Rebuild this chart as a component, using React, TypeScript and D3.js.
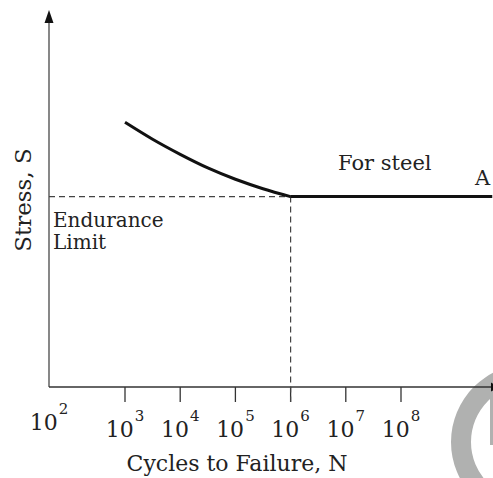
import React, { useEffect, useRef } from "react";
import * as d3 from "d3";

// S-N curve (stress in arbitrary units, 0..100 on the axis)
const cycles = [1e3, 3.16e3, 1e4, 3.16e4, 1e5, 3.16e5, 1e6];
const stress = [70.2, 65.7, 61.7, 58.1, 55.1, 52.6, 50.5];
const enduranceLimit = 50.5;
const flatEnd = 4.5e9;
const tickExponents = [3, 4, 5, 6, 7, 8];

const WIDTH = 493;
const HEIGHT = 478;
const FONT = "'DejaVu Serif', serif";

const App = () => {
  const ref = useRef<SVGSVGElement>(null);

  useEffect(() => {
    const svg = d3.select(ref.current);
    svg.selectAll("*").remove();

    const MARGIN = { left: 49, bottom: 387, top: 10 };
    const x = d3.scaleLog().domain([1e3, 1e8]).range([125, 401]);
    const y = d3.scaleLinear().domain([0, 100]).range([MARGIN.bottom, MARGIN.top]);

    // watermark ring
    const ring = d3.arc()({
      innerRadius: 58,
      outerRadius: 78,
      startAngle: 0,
      endAngle: 2 * Math.PI,
    } as any);
    svg
      .append("path")
      .attr("d", ring as string)
      .attr("transform", "translate(529,442)")
      .attr("fill", "#b0b1b0");
    svg
      .append("rect")
      .attr("x", 490)
      .attr("y", 390)
      .attr("width", 3)
      .attr("height", 55)
      .attr("fill", "#b0b1b0");

    // axes
    svg
      .append("line")
      .attr("x1", MARGIN.left)
      .attr("x2", MARGIN.left)
      .attr("y1", MARGIN.bottom)
      .attr("y2", MARGIN.top + 10)
      .attr("stroke", "#555")
      .attr("stroke-width", 1.4);
    svg
      .append("path")
      .attr(
        "d",
        `M${MARGIN.left},${MARGIN.top} L${MARGIN.left - 4.5},${MARGIN.top + 13} L${MARGIN.left + 4.5},${MARGIN.top + 13} Z`
      )
      .attr("fill", "#111");
    svg
      .append("line")
      .attr("x1", MARGIN.left)
      .attr("x2", WIDTH)
      .attr("y1", MARGIN.bottom)
      .attr("y2", MARGIN.bottom)
      .attr("stroke", "#333")
      .attr("stroke-width", 1.4);
    svg
      .append("path")
      .attr("d", `M${WIDTH + 6},${MARGIN.bottom} L${WIDTH - 2},${MARGIN.bottom - 4.5} L${WIDTH - 2},${MARGIN.bottom + 4.5} Z`)
      .attr("fill", "#111");

    // ticks
    svg
      .selectAll(".tick")
      .data(tickExponents)
      .join("line")
      .attr("x1", (d) => x(Math.pow(10, d)))
      .attr("x2", (d) => x(Math.pow(10, d)))
      .attr("y1", MARGIN.bottom)
      .attr("y2", MARGIN.bottom + 15)
      .attr("stroke", "#333")
      .attr("stroke-width", 1.3);

    const labels = svg
      .selectAll(".tlabel")
      .data(tickExponents)
      .join("text")
      .attr("x", (d) => x(Math.pow(10, d)))
      .attr("y", 437)
      .attr("text-anchor", "middle")
      .attr("font-family", FONT)
      .attr("font-size", 22)
      .attr("fill", "#222");
    labels.append("tspan").text("10");
    labels
      .append("tspan")
      .attr("dy", -16)
      .attr("dx", 1)
      .attr("font-size", 15)
      .text((d) => d);

    const l2 = svg
      .append("text")
      .attr("x", MARGIN.left)
      .attr("y", 430)
      .attr("text-anchor", "middle")
      .attr("font-family", FONT)
      .attr("font-size", 22)
      .attr("fill", "#222");
    l2.append("tspan").text("10");
    l2.append("tspan").attr("dy", -16).attr("dx", 1).attr("font-size", 15).text("2");

    // dashed guides
    svg
      .append("line")
      .attr("x1", MARGIN.left)
      .attr("x2", x(1e6))
      .attr("y1", y(enduranceLimit))
      .attr("y2", y(enduranceLimit))
      .attr("stroke", "#444")
      .attr("stroke-width", 1.2)
      .attr("stroke-dasharray", "6,4");
    svg
      .append("line")
      .attr("x1", x(1e6))
      .attr("x2", x(1e6))
      .attr("y1", y(enduranceLimit))
      .attr("y2", MARGIN.bottom + 15)
      .attr("stroke", "#444")
      .attr("stroke-width", 1.2)
      .attr("stroke-dasharray", "6,4");

    // S-N curve
    const line = d3
      .line<number>()
      .x((d, i) => x(cycles[i]))
      .y((d) => y(d))
      .curve(d3.curveNatural);
    svg
      .append("path")
      .datum(stress)
      .attr("d", line)
      .attr("fill", "none")
      .attr("stroke", "#111")
      .attr("stroke-width", 3);
    svg
      .append("line")
      .attr("x1", x(1e6))
      .attr("x2", x(flatEnd))
      .attr("y1", y(enduranceLimit))
      .attr("y2", y(enduranceLimit))
      .attr("stroke", "#111")
      .attr("stroke-width", 3);

    // annotations
    const txt = (tx: number, ty: number, s: string, size = 21, anchor = "start") =>
      svg
        .append("text")
        .attr("x", tx)
        .attr("y", ty)
        .attr("text-anchor", anchor)
        .attr("font-family", FONT)
        .attr("font-size", size)
        .attr("fill", "#222")
        .text(s);

    txt(338, 170, "For steel", 21);
    txt(475, 185, "A", 21);
    txt(53, 227, "Endurance", 20);
    txt(53, 249, "Limit", 20);
    txt(237, 471, "Cycles to Failure, N", 22, "middle");
    txt(0, 0, "Stress, S", 23, "middle").attr("transform", "translate(31,200) rotate(-90)");
  }, []);

  return (
    <svg
      ref={ref}
      width={WIDTH}
      height={HEIGHT}
      style={{ position: "absolute", left: 0, top: 0, background: "#fff" }}
    />
  );
};

export default App;
